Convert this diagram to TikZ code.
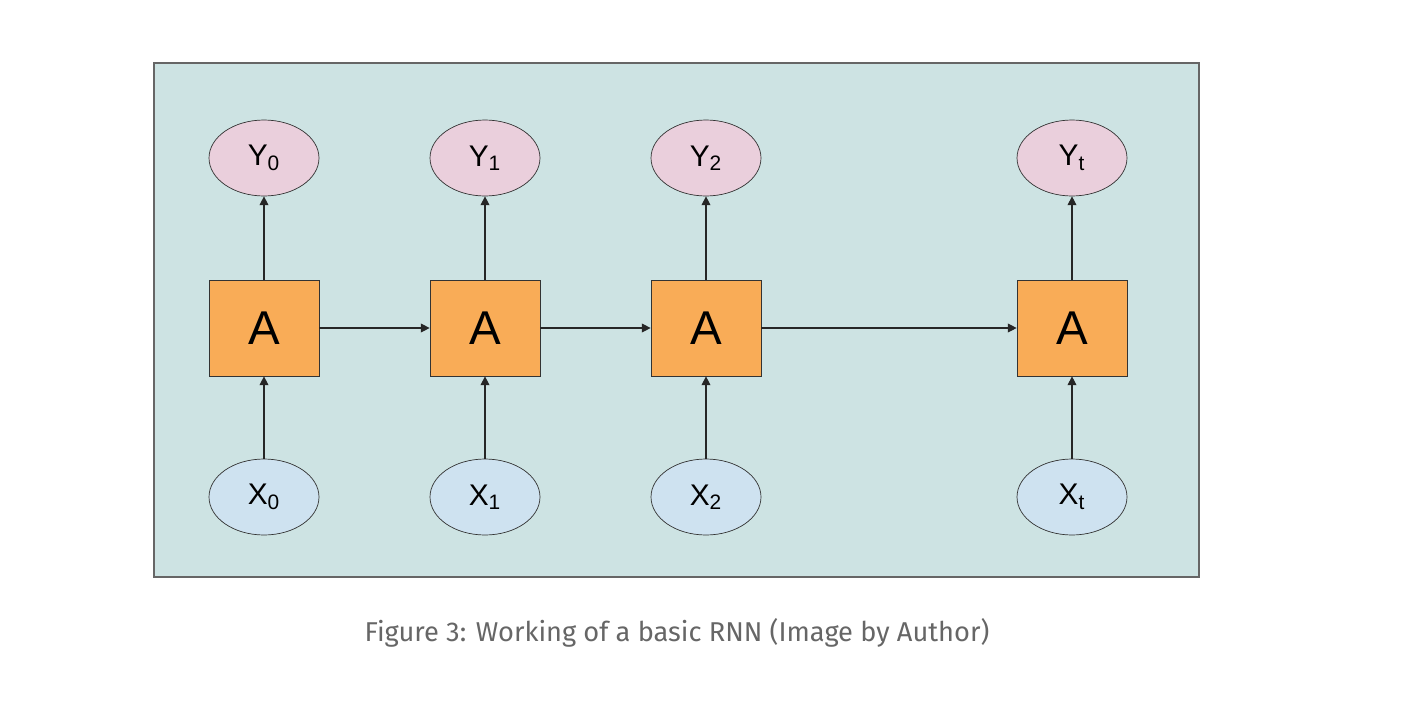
\documentclass[tikz,border=0pt]{standalone}
\usepackage{fontspec}
\setmainfont{Liberation Sans}
\newfontfamily\capfont{Fira Sans}
\usetikzlibrary{shapes.geometric,arrows.meta}
\definecolor{bgc}{HTML}{CDE3E3}
\definecolor{boxc}{HTML}{F9AC57}
\definecolor{yc}{HTML}{EACFDC}
\definecolor{xc}{HTML}{CEE2F0}
\begin{document}
\begin{tikzpicture}[x=0.02cm,y=-0.02cm,
  cell/.style={draw=black!80,fill=boxc,minimum width=2.2cm,minimum height=1.92cm,font=\fontsize{27}{27}\selectfont,inner sep=0},
  yout/.style={ellipse,draw=black!80,fill=yc,minimum width=2.2cm,minimum height=1.52cm,font=\fontsize{17}{17}\selectfont,inner sep=0},
  xin/.style={ellipse,draw=black!80,fill=xc,minimum width=2.2cm,minimum height=1.52cm,font=\fontsize{17}{17}\selectfont,inner sep=0},
  arr/.style={-{Triangle[length=5pt,width=5pt]},black!85,line width=0.6pt}]
\useasboundingbox (0,0) rectangle (1406,720);
\fill[white] (0,0) rectangle (1406,720);
\draw[fill=bgc,draw=black!60,line width=1.4pt] (154,63) rectangle (1199,577);
\foreach \i/\x/\s in {0/264/0,1/485/1,2/706/2,t/1072/t}{
  \node[cell] (a\i) at (\x,328) {A};
  \node[yout] (y\i) at (\x,158) {Y$_{\scriptstyle\mathrm{\s}}$};
  \node[xin] (x\i) at (\x,497) {X$_{\scriptstyle\mathrm{\s}}$};
  \draw[arr] (a\i) -- (y\i);
  \draw[arr] (x\i) -- (a\i);
}
\draw[arr] (a0) -- (a1);
\draw[arr] (a1) -- (a2);
\draw[arr] (a2) -- (at);
\node[text=black!60,font=\capfont\fontsize{15.5}{16}\selectfont] (cap) at (677,633) {Figure 3: Working of a basic RNN (Image by Author)};
\end{tikzpicture}
\end{document}
